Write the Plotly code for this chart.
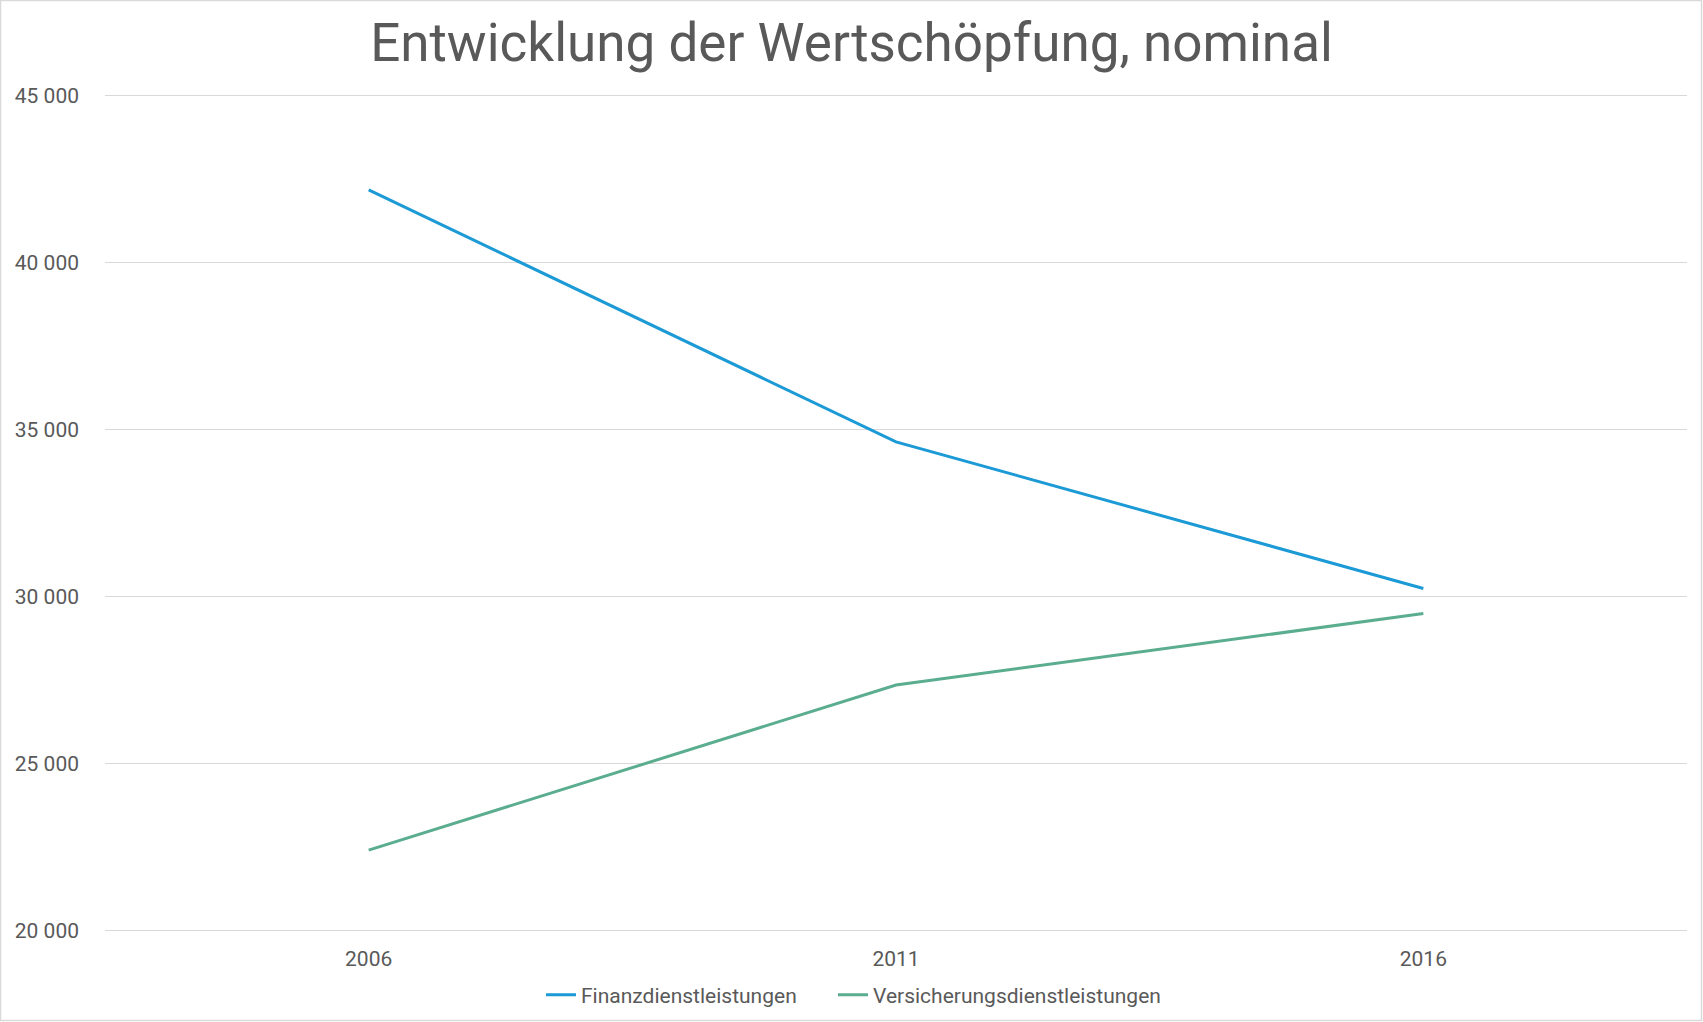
import plotly.graph_objects as go

years = ["2006", "2011", "2016"]
finanz = [42170, 34630, 30240]
versicherung = [22410, 27350, 29490]
series_names = ["Finanzdienstleistungen", "Versicherungsdienstleistungen"]
tick_vals = [20000, 25000, 30000, 35000, 40000, 45000]
tick_text = ["20 000", "25 000", "30 000", "35 000", "40 000", "45 000"]
title_text = "Entwicklung der Wertschöpfung, nominal"

W, H = 1703, 1022
L, R, T, B = 105, 16, 92, 88
pw, ph = W - L - R, H - T - B

fig = go.Figure()
fig.add_trace(go.Scatter(x=years, y=finanz, mode="lines", name=series_names[0],
                         line=dict(color="#1C9AD6", width=3), legend="legend"))
fig.add_trace(go.Scatter(x=years, y=versicherung, mode="lines", name=series_names[1],
                         line=dict(color="#5BAD8F", width=3), legend="legend2"))

def px_x(p):
    return (p - L) / pw

def px_y(p):
    return (H - B - p) / ph

fig.add_shape(type="rect", xref="paper", yref="paper",
              x0=px_x(0.5), x1=px_x(1701.5), y0=px_y(1020.5), y1=px_y(0.5),
              line=dict(color="#D9D9D9", width=1.5), layer="below")

leg_common = dict(orientation="h", xref="container", yref="container",
                  xanchor="left", y=1 - 995 / H, yanchor="middle",
                  font=dict(size=21, color="#595959"), itemwidth=30,
                  bgcolor="rgba(0,0,0,0)")

fig.update_layout(
    width=W, height=H,
    margin=dict(l=L, r=R, t=T, b=B, autoexpand=False),
    paper_bgcolor="white", plot_bgcolor="white",
    font=dict(family="Roboto", color="#595959", size=21),
    title=dict(text=title_text, x=0.5, xref="container", xanchor="center",
               y=1 - 42 / H, yref="container", yanchor="middle",
               font=dict(family="Roboto", size=53, color="#595959")),
    showlegend=True,
    legend=dict(leg_common, x=(546 - 5) / W),
    legend2=dict(leg_common, x=(838 - 5) / W),
    xaxis=dict(type="category", range=[-0.5, 2.5], showgrid=False, zeroline=False,
               showline=False, ticks="", ticklabelstandoff=10, automargin=False,
               tickfont=dict(size=21, color="#595959")),
    yaxis=dict(range=[19900, 45100], tickvals=tick_vals, ticktext=tick_text,
               showgrid=True, gridcolor="#D9D9D9", gridwidth=1, zeroline=False,
               showline=False, ticks="", ticklabelstandoff=25, automargin=False,
               tickfont=dict(size=21, color="#595959")),
)

fig.write_html("out.html", config={"displayModeBar": False},
               post_script="document.body.style.margin='0';document.body.style.overflow='hidden';")
